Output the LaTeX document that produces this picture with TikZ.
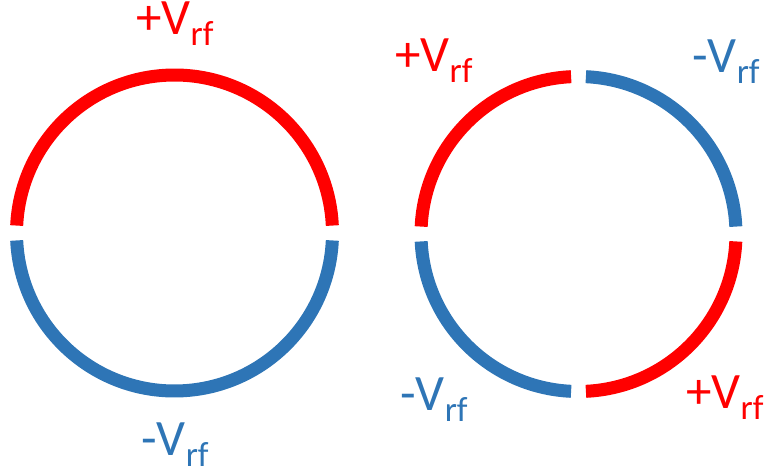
\documentclass[tikz,border=0pt]{standalone}
\usepackage{fontspec}
\setmainfont{Carlito}
\definecolor{vred}{RGB}{255,0,0}
\definecolor{vblue}{RGB}{46,117,182}
\newcommand{\vrf}[1]{#1V\raisebox{-11pt}{\fontsize{35}{38}\selectfont rf}}
\begin{document}
\begin{tikzpicture}[
  x=1pt, y=1pt,
  ring/.style={line width=13pt, line cap=butt},
  vlabel/.style={anchor=base west, inner sep=0pt, font=\fontsize{51}{58}\selectfont}
]
  \useasboundingbox (0,0) rectangle (764,475);
  % two-electrode ring
  \coordinate (lc) at (174.5,242);
  \draw[ring, vred] ([shift={(2.7:158)}]lc) arc[start angle=2.7, end angle=177.3, radius=158];
  \draw[ring, vblue] ([shift={(182.7:158)}]lc) arc[start angle=182.7, end angle=357.3, radius=158];
  \node[vlabel, text=vred] (ltop) at (136,440) {\vrf{+}};
  \node[vlabel, text=vblue] (lbot) at (141,20) {\vrf{-}};

  % four-electrode ring
  \coordinate (rc) at (578.5,241);
  \draw[ring, vblue] ([shift={(2.7:157.5)}]rc) arc[start angle=2.7, end angle=87.3, radius=157.5];
  \draw[ring, vred] ([shift={(92.7:157.5)}]rc) arc[start angle=92.7, end angle=177.3, radius=157.5];
  \draw[ring, vblue] ([shift={(182.7:157.5)}]rc) arc[start angle=182.7, end angle=267.3, radius=157.5];
  \draw[ring, vred] ([shift={(272.7:157.5)}]rc) arc[start angle=272.7, end angle=357.3, radius=157.5];
  \node[vlabel, text=vred] (rtl) at (395,403) {\vrf{+}};
  \node[vlabel, text=vblue] (rtr) at (692,402) {\vrf{-}};
  \node[vlabel, text=vblue] (rbl) at (400,65) {\vrf{-}};
  \node[vlabel, text=vred] (rbr) at (686,67) {\vrf{+}};
\end{tikzpicture}
\end{document}
